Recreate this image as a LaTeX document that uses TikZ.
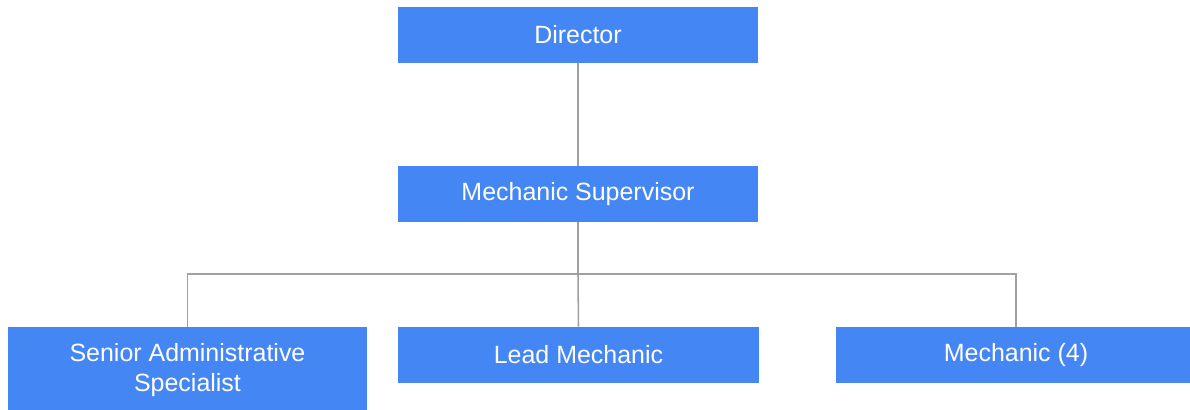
\documentclass[tikz,border=0pt]{standalone}
\usepackage{fontspec}
\setmainfont{Liberation Sans}
\definecolor{roleblue}{HTML}{4487F4}
\definecolor{linkgray}{HTML}{A0A0A0}
\tikzset{
  rolebox/.style={fill=roleblue, text=white, minimum width=9cm, minimum height=1.4cm,
    align=center, inner sep=0pt, font=\fontsize{17.75}{21.3}\selectfont},
  link/.style={draw=linkgray, line width=1.1pt}
}
\begin{document}
\begin{tikzpicture}[x=0.025cm, y=-0.025cm]
  \useasboundingbox (0,0) rectangle (1190,409);
  \clip (0,0) rectangle (1190,409);
  \node[rolebox] (director) at (578,35) {Director};
  \node[rolebox] (supervisor) at (578,194) {Mechanic Supervisor};
  \node[rolebox, minimum width=8.975cm, minimum height=2.15cm] (senior) at (187.5,370) {Senior Administrative\\Specialist};
  \node[rolebox] (lead) at (578.5,355) {Lead Mechanic};
  \node[rolebox] (mechanic) at (1016,355) {Mechanic (4)};
  \coordinate (bus) at (578,274);
  % reporting lines
  \draw[link] (director) -- (supervisor);
  \draw[link] (supervisor) -- (bus);
  \draw[link] (senior.north) |- (bus) -| (mechanic.north);
  \draw[link] (bus) -- (lead.north);
\end{tikzpicture}
\end{document}
